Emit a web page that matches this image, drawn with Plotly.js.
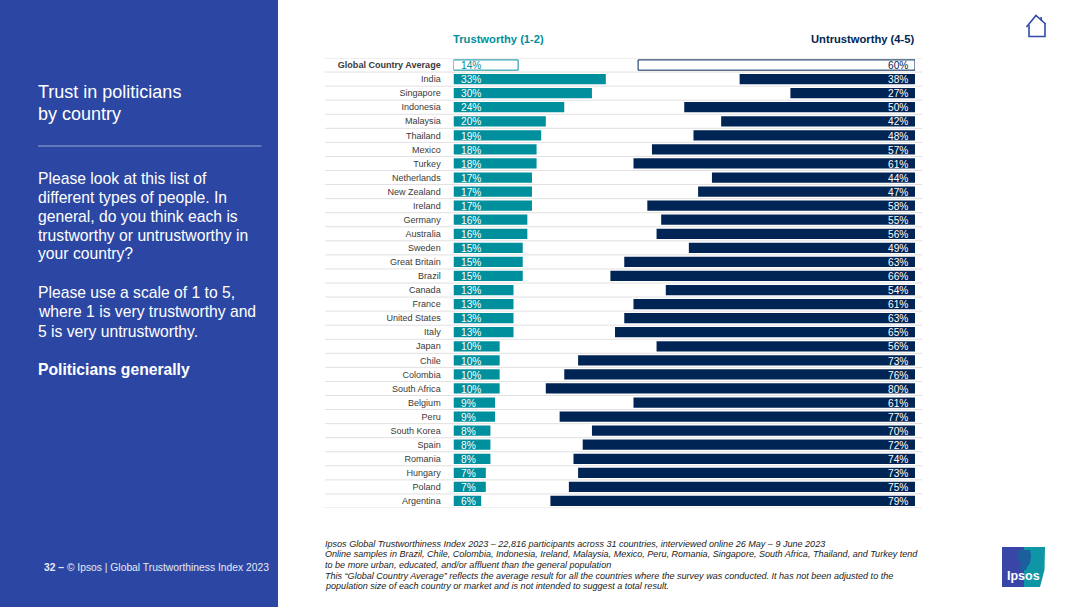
<!DOCTYPE html>
<html>
<head>
<meta charset="utf-8">
<script src="https://cdn.plot.ly/plotly-3.0.1.min.js"></script>
<style>html,body{margin:0;padding:0;background:#fff;overflow:hidden}#c{width:1080px;height:607px}</style>
</head>
<body>
<div id="c"></div>
<script>
const categories = ["Global Country Average","India","Singapore","Indonesia","Malaysia","Thailand","Mexico","Turkey","Netherlands","New Zealand","Ireland","Germany","Australia","Sweden","Great Britain","Brazil","Canada","France","United States","Italy","Japan","Chile","Colombia","South Africa","Belgium","Peru","South Korea","Spain","Romania","Hungary","Poland","Argentina"];
const trustworthy = [14,33,30,24,20,19,18,18,17,17,17,16,16,15,15,15,13,13,13,13,10,10,10,10,9,9,8,8,8,7,7,6];
const untrustworthy = [60,38,27,50,42,48,57,61,44,47,58,55,56,49,63,66,54,61,63,65,56,73,76,80,61,77,70,72,74,73,75,79];
const footnotes = [
  "Ipsos Global Trustworthiness Index 2023 – 22,816 participants across 31 countries, interviewed online 26 May – 9 June 2023",
  "Online samples in Brazil, Chile, Colombia, Indonesia, Ireland, Malaysia, Mexico, Peru, Romania, Singapore, South Africa, Thailand, and Turkey tend",
  "to be more urban, educated, and/or affluent than the general population",
  "This “Global Country Average” reflects the average result for all the countries where the survey was conducted. It has not been adjusted to the",
  "population size of each country or market and is not intended to suggest a total result."
];
const panelLines = [
  {t:"Trust in politicians", y:92, s:18},
  {t:"by country", y:114, s:18},
  {t:"Please look at this list of", y:178, s:15.7},
  {t:"different types of people. In", y:197, s:15.7},
  {t:"general, do you think each is", y:216, s:15.7},
  {t:"trustworthy or untrustworthy in", y:235, s:15.7},
  {t:"your country?", y:254, s:15.7},
  {t:"Please use a scale of 1 to 5,", y:292, s:15.7},
  {t:"where 1 is very trustworthy and", y:311, s:15.7},
  {t:"5 is very untrustworthy.", y:331, s:15.7},
  {t:"<b>Politicians generally</b>", y:369, s:15.7}
];

const W = 1080, H = 607;
const TEAL = "#008f9c", NAVY = "#002554", PANEL = "#2c47a3", FONT = "Liberation Sans, Arial, sans-serif";
const px = v => v / W, py = v => 1 - v / H;
const idx = categories.map((_, i) => i);
const fill = (first, rest) => idx.map(i => i === 0 ? first : rest);

const traces = [
  {type:"bar", orientation:"h", y:idx, x:trustworthy, xaxis:"x", yaxis:"y", hoverinfo:"none",
   marker:{color:fill("#ffffff",TEAL), line:{color:fill(TEAL,TEAL), width:fill(1,0)}}},
  {type:"bar", orientation:"h", y:idx, x:untrustworthy, xaxis:"x2", yaxis:"y", hoverinfo:"none",
   marker:{color:fill("#ffffff",NAVY), line:{color:fill(NAVY,NAVY), width:fill(1,0)}}}
];

const annotations = [];
const note = (text, x, y, size, color, anchor) => annotations.push({
  text, xref:"paper", yref:"paper", x:px(x), y:py(y), xanchor:anchor||"left", yanchor:"middle",
  showarrow:false, align:"left", font:{family:FONT, size, color}, borderpad:0
});
idx.forEach(i => {
  annotations.push({text:trustworthy[i]+"%", xref:"x", yref:"y", x:0, y:i, xanchor:"left", yanchor:"middle", xshift:5, yshift:-0.7,
    showarrow:false, font:{family:FONT, size:10.2, color:i===0?TEAL:"#ffffff"}});
  annotations.push({text:untrustworthy[i]+"%", xref:"x2", yref:"y", x:0, y:i, xanchor:"right", yanchor:"middle", xshift:-5, yshift:-0.7,
    showarrow:false, font:{family:FONT, size:10.2, color:i===0?NAVY:"#ffffff"}});
});
note("<b>Trustworthy (1-2)</b>", 452.5, 39, 11.2, TEAL);
note("<b>Untrustworthy (4-5)</b>", 915, 39, 11.2, NAVY, "right");
panelLines.forEach(l => note(l.t, 37, l.y, l.s, "#ffffff"));
note("<b>32 –</b> © Ipsos | Global Trustworthiness Index 2023", 42.5, 567, 10.3, "#e6e9f5");
footnotes.forEach((t, i) => note("<i>"+t+"</i>", 323.5, 543.5 + i*10.7, 9.05, "#222222"));
note("<b>Ipsos</b>", 1023.5, 575.5, 12.5, "#ffffff", "center");

const rect = (x0,y0,x1,y1,color) => ({type:"rect", xref:"paper", yref:"paper", x0:px(x0), x1:px(x1), y0:py(y0), y1:py(y1),
  fillcolor:color, line:{width:0}, layer:"below"});
const path = (pts, close, style) => ({type:"path", xref:"paper", yref:"paper", layer:"above",
  path: pts.map((p,i)=>(i?"L":"M")+px(p[0])+","+py(p[1])).join(" ")+(close?" Z":""), ...style});

const shapes = [rect(0,0,278,607,PANEL)];
shapes.push({type:"line", xref:"paper", yref:"paper", x0:px(38), x1:px(261.5), y0:py(146), y1:py(146), line:{color:"#9aa7d3", width:1}});
// row separators, placed on category boundaries through the y axis
for (let i = 0; i <= categories.length; i++) {
  shapes.push({type:"line", xref:"paper", yref:"y", x0:px(325), x1:px(922), y0:i-0.5, y1:i-0.5, layer:"below",
    line:{color:"#e2e0e2", width:1}});
}
// home icon
shapes.push(path([[1026.5,27],[1036,15.5],[1045.5,24]], false, {line:{color:"#2f4ba8", width:1.6}}));
shapes.push(path([[1029,25],[1029,36.5],[1045,36.5],[1045,23]], false, {line:{color:"#2f4ba8", width:1.6}}));
shapes.push(path([[1041,17],[1041.5,20.5]], false, {line:{color:"#2f4ba8", width:1.6}}));
// logo
shapes.push(path([[1002,547],[1024,547],[1024,587],[1002,587]], true, {line:{width:0}, fillcolor:"#3a45a8"}));
shapes.push(path([[1024,547],[1045,547],[1044.5,570],[1040,587],[1024,587]], true, {line:{width:0}, fillcolor:"#0f96a6"}));
shapes.push(path([[1018,550],[1030,550],[1031,556],[1030,563],[1027,567],[1026,570],[1019,570],[1021,564],[1017,557]], true, {line:{width:0}, fillcolor:"#1c5f9e"}));

const layout = {
  width:W, height:H, margin:{l:0,r:0,t:0,b:0}, paper_bgcolor:"#ffffff", plot_bgcolor:"rgba(0,0,0,0)",
  showlegend:false, barmode:"overlay", bargap:0.27, font:{family:FONT},
  xaxis:{domain:[px(453.5),px(915)], range:[0,100], visible:false, fixedrange:true},
  xaxis2:{domain:[px(453.5),px(915)], range:[100,0], visible:false, fixedrange:true, overlaying:"x", anchor:"y"},
  yaxis:{domain:[py(508),py(58)], range:[categories.length-0.5,-0.5], showgrid:false, zeroline:false, showline:false,
    tickmode:"array", tickvals:idx, ticktext:categories.map((c,i)=>i===0?"<b>"+c+"</b>":c),
    ticks:"outside", ticklen:10, tickcolor:"rgba(0,0,0,0)", tickfont:{family:FONT, size:9.05, color:"#3a3a3a"}, fixedrange:true},
  shapes, annotations
};
Plotly.newPlot("c", traces, layout, {displayModeBar:false, staticPlot:true});
</script>
</body>
</html>
